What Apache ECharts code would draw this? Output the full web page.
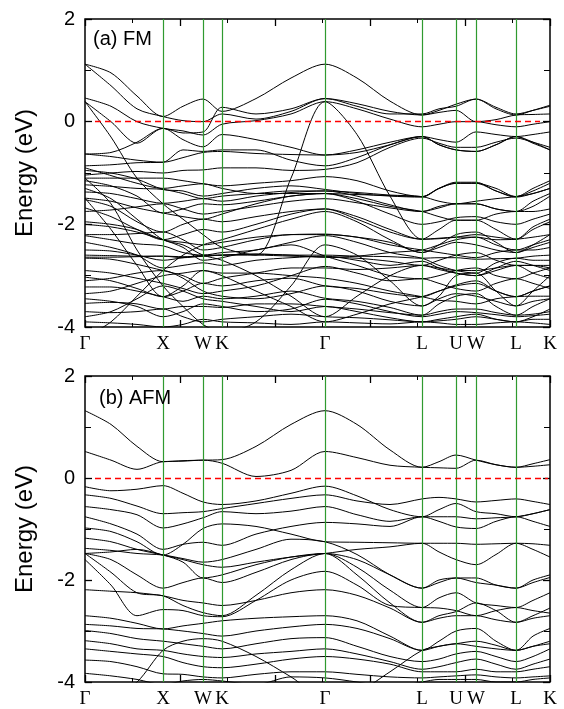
<!DOCTYPE html>
<html>
<head>
<meta charset="utf-8">
<script src="https://cdn.jsdelivr.net/npm/echarts@6/dist/echarts.min.js"></script>
<style>
  html, body { margin: 0; background: #fff; }
  #chart { width: 564px; height: 709px; }
</style>
</head>
<body>
<div id="chart"></div>
<script>
// k-path sampling positions (distance along path) and high-symmetry points
var kx = [0, 26, 52, 78, 98, 118, 137, 171, 206, 240, 272, 305, 337, 354, 371, 391, 411, 431, 448, 465];
var kPos = [0, 78, 118, 137, 240, 337, 371, 391, 431, 465];
var kLabels = ['Γ', 'X', 'W', 'K', 'Γ', 'L', 'U', 'W', 'L', 'K'];
var yTicks = [-4, -2, 0, 2];

// (a) FM bands, energies (eV) at kx
var fm01 = [1.12, 0.95, 0.50, 0.10, 0.30, 0.44, 0.20, 0.45, 0.85, 1.12, 0.85, 0.40, 0.13, 0.22, 0.34, 0.44, 0.25, 0.13, 0.22, 0.32];
var fm02 = [1.12, 0.70, 0.25, 0.10, 0.02, 0.00, 0.15, 0.05, 0.20, 0.45, 0.35, 0.20, 0.13, 0.18, 0.22, 0.00, 0.04, 0.13, 0.14, 0.15];
var fm03 = [0.46, 0.30, 0.00, -0.13, -0.18, -0.26, -0.05, 0.02, 0.15, 0.39, 0.25, 0.05, -0.10, -0.05, 0.00, 0.00, -0.06, -0.10, -0.05, 0.00];
var fm04 = [0.39, -0.30, -1.10, -1.60, -1.90, -2.20, -2.45, -2.60, -1.10, 0.39, -0.25, -1.45, -2.29, -2.10, -1.92, -1.92, -2.10, -2.29, -2.05, -1.90];
var fm05 = [-0.63, -0.60, -0.40, -0.13, -0.35, -0.49, -0.25, -0.35, -0.50, -0.65, -0.55, -0.40, -0.29, -0.35, -0.40, -0.20, -0.25, -0.29, -0.25, -0.20];
var fm06 = [-0.86, -0.84, -0.80, -0.79, -0.55, -0.58, -0.55, -0.55, -0.75, -0.86, -0.70, -0.45, -0.29, -0.45, -0.55, -0.58, -0.45, -0.29, -0.42, -0.55];
var fm07 = [-1.04, -1.00, -0.97, -1.00, -0.95, -0.94, -0.90, -0.90, -0.95, -0.93, -0.80, -0.50, -0.32, -0.42, -0.50, -0.50, -0.40, -0.32, -0.40, -0.50];
var fm08 = [-1.10, -1.10, -1.10, -1.10, -1.15, -1.21, -1.25, -1.20, -1.15, -1.07, -1.15, -1.35, -1.46, -1.30, -1.20, -1.20, -1.35, -1.46, -1.30, -1.15];
var fm09 = [-1.23, -1.26, -1.30, -1.32, -1.40, -1.50, -1.45, -1.40, -1.35, -1.35, -1.38, -1.43, -1.46, -1.55, -1.60, -1.55, -1.50, -1.46, -1.40, -1.30];
var fm10 = [-1.37, -1.40, -1.50, -1.59, -1.55, -1.50, -1.55, -1.45, -1.38, -1.35, -1.45, -1.62, -1.75, -1.68, -1.60, -1.60, -1.70, -1.75, -1.65, -1.45];
var fm11 = [-1.49, -1.55, -1.68, -1.78, -1.85, -1.90, -1.80, -1.60, -1.45, -1.40, -1.50, -1.65, -1.75, -1.85, -1.92, -1.92, -1.80, -1.75, -1.75, -1.70];
var fm12 = [-1.52, -1.65, -1.95, -2.15, -2.00, -1.90, -1.95, -1.85, -1.75, -1.70, -1.85, -2.10, -2.29, -2.28, -2.25, -2.20, -2.25, -2.29, -2.10, -1.95];
var fm13 = [-1.68, -1.85, -2.10, -2.30, -2.20, -2.10, -2.15, -2.00, -1.80, -1.70, -1.90, -2.15, -2.29, -2.27, -2.25, -2.25, -2.30, -2.29, -2.25, -2.20];
var fm14 = [-2.20, -2.20, -2.18, -2.15, -2.30, -2.50, -2.45, -2.30, -2.20, -2.20, -2.25, -2.40, -2.50, -2.55, -2.60, -2.65, -2.55, -2.50, -2.50, -2.45];
var fm15 = [-2.22, -2.30, -2.38, -2.42, -2.55, -2.60, -2.55, -2.50, -2.35, -2.22, -2.35, -2.55, -2.66, -2.80, -2.90, -2.95, -2.75, -2.66, -2.70, -2.70];
var fm16 = [-2.50, -2.52, -2.60, -2.70, -2.65, -2.60, -2.60, -2.60, -2.62, -2.64, -2.66, -2.72, -2.80, -2.70, -2.60, -2.55, -2.70, -2.80, -2.80, -2.85];
var fm17 = [-2.66, -2.68, -2.78, -2.90, -3.00, -3.15, -3.05, -2.95, -2.85, -2.85, -2.88, -2.85, -2.80, -2.88, -2.95, -3.00, -2.90, -2.80, -2.95, -3.05];
var fm18 = [-2.60, -2.61, -2.62, -2.62, -2.63, -2.62, -2.60, -2.58, -2.60, -2.60, -2.62, -2.63, -2.66, -2.65, -2.65, -2.68, -2.67, -2.66, -2.62, -2.60];
var fm19 = [-3.03, -3.10, -3.25, -3.41, -3.30, -3.15, -3.20, -3.10, -3.05, -3.20, -3.25, -3.35, -3.41, -3.30, -3.18, -3.10, -3.30, -3.41, -3.30, -3.20];
var fm20 = [-3.22, -3.22, -3.30, -3.41, -3.50, -3.40, -3.45, -3.40, -3.30, -3.44, -3.50, -3.62, -3.77, -3.55, -3.40, -3.35, -3.60, -3.77, -3.60, -3.45];
var fm21 = [-3.54, -3.52, -3.55, -3.65, -3.60, -3.60, -3.62, -3.55, -3.55, -3.60, -3.65, -3.72, -3.77, -3.70, -3.65, -3.65, -3.72, -3.77, -3.75, -3.70];
var fm22 = [-3.70, -3.72, -3.70, -3.65, -3.80, -3.90, -3.85, -3.80, -3.75, -3.80, -3.82, -3.86, -3.90, -3.88, -3.85, -3.80, -3.85, -3.90, -3.85, -3.85];
var fm23 = [-3.90, -3.92, -3.95, -4.00, -3.95, -3.85, -3.90, -3.92, -3.95, -3.90, -3.92, -3.94, -3.90, -3.92, -3.95, -3.95, -3.92, -3.90, -3.92, -3.95];
var fm24 = [-1.49, -2.10, -2.80, -3.41, -3.20, -2.90, -3.00, -3.30, -3.60, -3.90, -3.75, -3.55, -3.41, -3.30, -3.20, -3.15, -3.30, -3.41, -3.30, -3.20];
var fm25 = [-1.30, -1.50, -1.90, -2.30, -2.40, -2.60, -2.70, -3.00, -3.40, -3.80, -3.40, -3.00, -2.80, -2.85, -2.90, -2.90, -2.85, -2.80, -2.80, -2.80];
var fm26 = [-2.64, -2.64, -2.63, -2.62, -2.65, -2.62, -2.60, -2.58, -2.60, -2.64, -2.62, -2.55, -2.50, -2.40, -2.30, -2.25, -2.40, -2.50, -2.40, -2.30];
var fm27 = [-1.75, -1.72, -1.66, -1.60, -1.70, -1.80, -1.75, -1.65, -1.55, -1.50, -1.58, -1.68, -1.75, -1.65, -1.60, -1.60, -1.70, -1.75, -1.55, -1.40];
var fm28 = [-0.90, -1.05, -1.20, -1.30, -1.25, -1.21, -1.30, -1.40, -1.40, -1.40, -1.42, -1.44, -1.46, -1.30, -1.20, -1.20, -1.30, -1.46, -1.35, -1.20];
var fm29 = [-3.35, -3.30, -3.15, -3.00, -2.95, -2.90, -2.95, -2.95, -3.00, -3.05, -3.15, -3.30, -3.41, -3.48, -3.50, -3.55, -3.45, -3.41, -3.40, -3.40];
var fm30 = [-3.80, -3.70, -3.45, -3.20, -3.30, -3.45, -3.50, -3.60, -3.70, -3.60, -3.70, -3.82, -3.90, -3.85, -3.80, -3.75, -3.85, -3.90, -3.80, -3.65];
var fm31 = [-0.63, -0.68, -0.75, -0.79, -0.70, -0.60, -0.58, -0.62, -0.64, -0.65, -0.60, -0.45, -0.29, -0.45, -0.55, -0.58, -0.45, -0.29, -0.40, -0.55];
var fm32 = [-1.15, -1.25, -1.45, -1.78, -1.70, -1.60, -1.62, -1.55, -1.45, -1.40, -1.55, -1.80, -2.00, -1.95, -1.87, -1.85, -1.95, -2.00, -1.90, -1.80];
var fm33 = [-1.95, -2.00, -2.10, -2.30, -2.35, -2.40, -2.35, -2.25, -2.20, -2.19, -2.25, -2.35, -2.55, -2.45, -2.35, -2.40, -2.50, -2.55, -2.45, -2.35];
var fm34 = [-2.35, -2.45, -2.60, -2.85, -2.80, -2.75, -2.80, -2.70, -2.65, -2.62, -2.70, -2.80, -2.72, -2.85, -2.95, -3.00, -2.85, -2.72, -2.80, -2.90];
var fm35 = [-2.90, -2.95, -3.05, -3.15, -3.25, -3.35, -3.30, -3.20, -3.00, -2.82, -2.95, -3.10, -3.06, -3.15, -3.25, -3.30, -3.15, -3.06, -3.15, -3.25];
var fm36 = [-3.10, -3.05, -2.95, -2.90, -3.05, -3.30, -3.40, -3.45, -3.35, -3.20, -3.30, -3.50, -3.59, -3.45, -3.35, -3.40, -3.50, -3.59, -3.50, -3.45];
var fm37 = [-3.45, -3.50, -3.60, -3.80, -3.70, -3.55, -3.60, -3.70, -3.65, -3.46, -3.55, -3.70, -3.80, -3.75, -3.70, -3.72, -3.76, -3.80, -3.78, -3.75];
var fm38 = [-1.10, -1.60, -2.50, -3.20, -3.60, -3.95, -4.10, -3.90, -3.20, -2.40, -2.60, -3.10, -3.59, -3.40, -3.00, -2.95, -3.30, -3.59, -3.30, -3.00];
var fm39 = [-4.20, -3.90, -3.40, -2.90, -2.60, -2.40, -2.30, -2.10, -1.90, -1.75, -1.95, -2.30, -2.55, -2.40, -2.20, -2.15, -2.35, -2.55, -2.40, -2.20];
var fm40 = [-2.00, -2.05, -2.15, -2.30, -2.45, -2.70, -2.65, -2.50, -2.40, -2.62, -2.80, -3.00, -3.06, -3.00, -2.90, -2.85, -3.00, -3.06, -2.95, -2.85];
var fm41 = [-0.95, -1.00, -1.12, -1.32, -1.35, -1.45, -1.40, -1.30, -1.25, -1.32, -1.40, -1.45, -1.47, -1.30, -1.18, -1.18, -1.35, -1.47, -1.40, -1.30];
var fm42 = [0.39, 0.00, -0.42, -0.13, -0.22, -0.20, 0.28, 0.15, 0.25, 0.45, 0.30, 0.15, 0.15, 0.25, 0.30, 0.44, 0.28, 0.15, 0.22, 0.30];

// (b) AFM bands
var afm01 = [1.32, 1.05, 0.62, 0.32, 0.34, 0.35, 0.36, 0.62, 1.05, 1.32, 1.05, 0.55, 0.21, 0.32, 0.45, 0.35, 0.26, 0.21, 0.28, 0.36];
var afm02 = [0.52, 0.35, 0.17, 0.32, 0.33, 0.35, 0.29, 0.03, 0.15, 0.52, 0.40, 0.25, 0.21, 0.20, 0.19, 0.35, 0.26, 0.21, 0.23, 0.26];
var afm03 = [-0.17, -0.25, -0.22, -0.15, -0.30, -0.47, -0.52, -0.45, -0.30, -0.16, -0.35, -0.62, -0.76, -0.62, -0.50, -0.66, -0.70, -0.76, -0.70, -0.62];
var afm04 = [-0.33, -0.40, -0.55, -0.70, -0.68, -0.66, -0.60, -0.50, -0.40, -0.33, -0.45, -0.52, -0.41, -0.38, -0.41, -0.47, -0.44, -0.41, -0.46, -0.52];
var afm05 = [-0.56, -0.62, -0.72, -0.98, -0.90, -0.78, -0.66, -0.70, -0.65, -0.56, -0.72, -0.85, -0.76, -0.76, -0.76, -0.80, -0.78, -0.76, -0.70, -0.62];
var afm06 = [-0.76, -0.90, -1.10, -1.40, -1.30, -1.26, -1.32, -1.10, -0.95, -0.87, -0.90, -0.95, -0.76, -0.85, -0.96, -0.99, -0.85, -0.76, -0.85, -0.95];
var afm07 = [-0.98, -1.05, -1.25, -1.51, -1.30, -0.99, -0.90, -0.95, -1.10, -1.25, -1.26, -1.27, -1.28, -1.28, -1.28, -1.30, -1.29, -1.28, -1.29, -1.32];
var afm08 = [-1.48, -1.45, -1.40, -1.51, -1.65, -1.96, -1.90, -1.70, -1.55, -1.48, -1.60, -1.90, -2.16, -2.05, -1.96, -1.96, -2.10, -2.16, -2.00, -1.90];
var afm09 = [-1.48, -1.60, -1.90, -2.16, -2.05, -1.96, -2.05, -1.85, -1.60, -1.48, -1.75, -2.20, -2.54, -2.35, -2.25, -2.45, -2.50, -2.54, -2.40, -2.25];
var afm10 = [-1.48, -1.85, -2.25, -2.31, -2.50, -2.64, -2.70, -2.30, -1.80, -1.48, -1.90, -2.45, -2.83, -2.75, -2.70, -2.70, -2.78, -2.83, -2.75, -2.70];
var afm11 = [-1.60, -2.10, -2.70, -2.58, -2.60, -2.70, -2.72, -2.40, -2.00, -1.83, -2.10, -2.50, -2.54, -2.55, -2.60, -2.70, -2.60, -2.54, -2.60, -2.65];
var afm12 = [-2.19, -2.22, -2.25, -2.31, -2.40, -2.45, -2.50, -2.40, -2.25, -2.19, -2.30, -2.55, -2.83, -2.70, -2.62, -2.45, -2.60, -2.83, -2.70, -2.55];
var afm13 = [-2.70, -2.75, -2.85, -2.96, -2.90, -2.85, -2.80, -2.75, -2.72, -2.70, -2.80, -3.10, -3.38, -3.20, -3.00, -2.95, -3.20, -3.38, -3.10, -2.95];
var afm14 = [-2.87, -2.90, -2.95, -2.96, -3.00, -3.05, -3.10, -3.00, -2.92, -2.87, -2.95, -3.15, -3.38, -3.30, -3.25, -3.20, -3.28, -3.38, -3.30, -3.20];
var afm15 = [-2.99, -3.05, -3.15, -3.20, -3.25, -3.30, -3.35, -3.25, -3.15, -3.13, -3.30, -3.50, -3.60, -3.55, -3.45, -3.40, -3.50, -3.60, -3.50, -3.35];
var afm16 = [-3.19, -3.25, -3.35, -3.38, -3.45, -3.50, -3.52, -3.45, -3.40, -3.35, -3.45, -3.60, -3.75, -3.70, -3.62, -3.55, -3.65, -3.75, -3.65, -3.55];
var afm17 = [-3.35, -3.40, -3.45, -3.50, -3.62, -3.70, -3.72, -3.65, -3.55, -3.50, -3.55, -3.65, -3.80, -3.80, -3.80, -3.75, -3.80, -3.80, -3.75, -3.70];
var afm18 = [-3.57, -3.60, -3.70, -3.84, -3.85, -3.90, -3.92, -3.85, -3.80, -3.80, -3.85, -3.90, -3.92, -3.90, -3.88, -3.86, -3.90, -3.92, -3.90, -3.88];
var afm19 = [-3.83, -3.88, -3.95, -4.05, -3.98, -3.95, -3.98, -4.05, -3.90, -3.92, -4.00, -4.10, -4.00, -3.95, -3.95, -3.95, -4.00, -4.00, -3.95, -3.92];
var afm20 = [-4.50, -4.30, -4.00, -3.38, -3.20, -3.15, -3.20, -3.50, -3.90, -4.30, -4.20, -3.80, -3.38, -3.30, -3.25, -3.30, -3.35, -3.38, -3.30, -3.25];
var afm21 = [-1.18, -1.25, -1.40, -1.51, -1.60, -1.70, -1.75, -1.65, -1.55, -1.48, -1.40, -1.35, -1.28, -1.45, -1.60, -1.70, -1.50, -1.28, -1.40, -1.55];
var afm22 = [-1.38, -1.42, -1.48, -1.51, -1.58, -1.65, -1.60, -1.40, -1.20, -1.25, -1.50, -1.90, -2.16, -2.00, -1.96, -2.05, -2.10, -2.16, -2.05, -1.95];

var fmBands = [fm01, fm02, fm03, fm04, fm05, fm06, fm07, fm08, fm09, fm10, fm11, fm12, fm13, fm14,
  fm15, fm16, fm17, fm18, fm19, fm20, fm21, fm22, fm23, fm24, fm25, fm26, fm27, fm28, fm29, fm30,
  fm31, fm32, fm33, fm34, fm35, fm36, fm37, fm38, fm39, fm40, fm41, fm42];
var afmBands = [afm01, afm02, afm03, afm04, afm05, afm06, afm07, afm08, afm09, afm10, afm11,
  afm12, afm13, afm14, afm15, afm16, afm17, afm18, afm19, afm20, afm21, afm22];

var chart = echarts.init(document.getElementById('chart'));
var SANS = 'Liberation Sans';
var SERIF = 'Liberation Serif';
var grids = [
  { left: 85, top: 19, width: 465, height: 308 },
  { left: 85, top: 376, width: 465, height: 309 }
];

var xAxes = [], yAxes = [], series = [];

grids.forEach(function (g, gi) {
  g.show = true;
  g.borderColor = '#000';
  g.borderWidth = 1.5;

  var tickX = {
    gridIndex: gi, type: 'value', min: 0, max: 465, interval: 95,
    axisLine: { show: false, onZero: false },
    axisTick: { show: true, inside: true, length: 7, lineStyle: { color: '#000', width: 1.3 } },
    minorTick: { show: true, splitNumber: 2, length: 4, lineStyle: { color: '#000', width: 1 } },
    axisLabel: { show: false }, splitLine: { show: false }
  };
  xAxes.push(Object.assign({ position: 'bottom' }, tickX));
  xAxes.push(Object.assign({ position: 'top' }, tickX));
  xAxes.push({
    gridIndex: gi, type: 'value', min: 0, max: 465, position: 'bottom',
    axisLine: { show: false, onZero: false }, axisTick: { show: false }, splitLine: { show: false },
    axisLabel: {
      customValues: kPos, margin: 8, color: '#000', fontFamily: SERIF, fontSize: 19,
      formatter: function (v) { return kLabels[kPos.indexOf(v)]; }
    }
  });

  var tickY = {
    gridIndex: gi, type: 'value', min: yTicks[0], max: yTicks[yTicks.length - 1], interval: 2,
    axisLine: { show: false, onZero: false },
    axisTick: { show: true, inside: true, length: 7, lineStyle: { color: '#000', width: 1.3 } },
    minorTick: { show: true, splitNumber: 2, length: 6, lineStyle: { color: '#000', width: 1 } },
    splitLine: { show: false }
  };
  yAxes.push(Object.assign({
    position: 'left',
    name: 'Energy (eV)', nameLocation: 'middle', nameGap: 48,
    nameTextStyle: { color: '#000', fontFamily: SANS, fontSize: 24 },
    axisLabel: { color: '#000', fontFamily: SANS, fontSize: 20, margin: 10 }
  }, tickY));
  yAxes.push(Object.assign({ position: 'right', axisLabel: { show: false } }, tickY));

  var bands = gi === 0 ? fmBands : afmBands;
  bands.forEach(function (b) {
    series.push({
      type: 'line', xAxisIndex: gi * 3, yAxisIndex: gi * 2,
      data: kx.map(function (x, i) { return [x, b[i]]; }),
      smooth: 0.3, showSymbol: false, silent: true, color: '#000',
      lineStyle: { color: '#000', width: 1 }
    });
  });

  // high-symmetry verticals
  series.push({
    type: 'line', xAxisIndex: gi * 3, yAxisIndex: gi * 2, data: [], z: 5, color: '#2f9a2f',
    markLine: {
      silent: true, symbol: ['none', 'none'], label: { show: false }, animation: false,
      lineStyle: { color: '#2f9a2f', width: 1.2, type: 'solid' },
      data: kPos.slice(1, -1).map(function (v) { return { xAxis: v }; })
    }
  });
  // Fermi level
  series.push({
    type: 'line', xAxisIndex: gi * 3, yAxisIndex: gi * 2, data: [], z: 6, color: '#ff0000',
    markLine: {
      silent: true, symbol: ['none', 'none'], label: { show: false }, animation: false,
      lineStyle: { color: '#ff0000', width: 1.3, type: [6, 4] },
      data: [[{ coord: [10, 0] }, { coord: [gi === 0 ? 455 : 463, 0] }]]
    }
  });
});

chart.setOption({
  animation: false,
  backgroundColor: '#fff',
  title: [
    { text: '(a) FM', left: 88, top: 24, textStyle: { fontFamily: SANS, fontSize: 20, fontWeight: 'normal', color: '#000' } },
    { text: '(b) AFM', left: 94, top: 383, textStyle: { fontFamily: SANS, fontSize: 20, fontWeight: 'normal', color: '#000' } }
  ],
  grid: grids,
  xAxis: xAxes,
  yAxis: yAxes,
  series: series
});
</script>
</body>
</html>
